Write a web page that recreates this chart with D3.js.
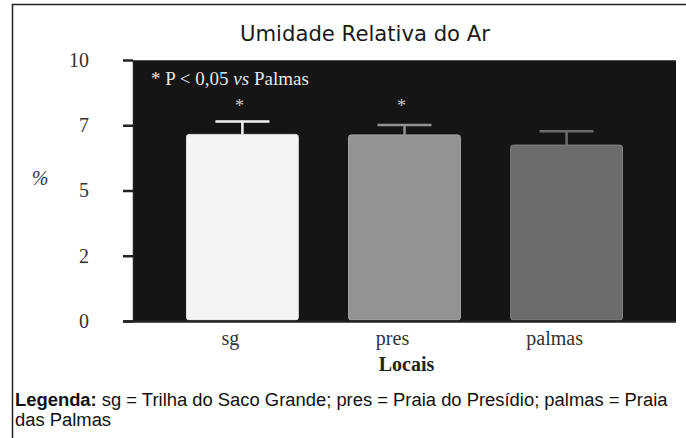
<!DOCTYPE html>
<html>
<head>
<meta charset="utf-8">
<script src="https://cdn.jsdelivr.net/npm/d3@7"></script>
<style>
  body { margin: 0; background: #fff; }
  svg { display: block; }
</style>
</head>
<body>
<div id="chart"></div>
<script>
const width = 686;
const height = 438;

// Data
const locais = ['sg', 'pres', 'palmas'];
const medias = [7.15, 7.13, 6.74];
const desvios = [0.49, 0.38, 0.53];
const signif = [true, true, false];
const yTicks = [0, 2.5, 5, 7.5, 10];
const yTickLabels = ['0', '2', '5', '7', '10'];
const barColors = ['#f4f4f4', '#939393', '#6c6c6c'];
const barEdges = ['#dcdcdc', '#a6a6a6', '#808080'];

const plot = { left: 133, right: 676, top: 60, bottom: 321 };

const svg = d3.select('#chart')
  .append('svg')
  .attr('width', width)
  .attr('height', height);

// outer frame
svg.append('rect')
  .attr('x', 12.5)
  .attr('y', 4.5)
  .attr('width', width)
  .attr('height', height + 10)
  .attr('fill', 'none')
  .attr('stroke', '#222')
  .attr('stroke-width', 1.5);

// title
svg.append('text')
  .attr('x', 240)
  .attr('y', 41)
  .attr('textLength', 250)
  .attr('lengthAdjust', 'spacingAndGlyphs')
  .attr('font-family', 'DejaVu Sans, sans-serif')
  .attr('font-size', 22)
  .attr('fill', '#1a1a1a')
  .text('Umidade Relativa do Ar');

const x = d3.scaleBand()
  .domain(locais)
  .range([plot.left, plot.right])
  .paddingInner(0.31)
  .paddingOuter(0.33);

const y = d3.scaleLinear()
  .domain([0, 10])
  .range([plot.bottom, plot.top]);

// black plot background
svg.append('rect')
  .attr('x', plot.left)
  .attr('y', plot.top)
  .attr('width', plot.right - plot.left)
  .attr('height', plot.bottom - plot.top)
  .attr('fill', '#151515');

svg.append('line')
  .attr('x1', plot.left).attr('x2', plot.right)
  .attr('y1', plot.top + 0.5).attr('y2', plot.top + 0.5)
  .attr('stroke', '#555');

// y axis
const yAxis = svg.append('g')
  .attr('transform', `translate(${plot.left},0)`)
  .call(d3.axisLeft(y)
    .tickValues(yTicks)
    .tickFormat((d, i) => yTickLabels[i])
    .tickSizeInner(10)
    .tickSizeOuter(0)
    .tickPadding(34));

yAxis.select('.domain').attr('stroke', '#222').attr('stroke-width', 1.5);
yAxis.selectAll('.tick line').attr('stroke', '#222').attr('stroke-width', 2.5);
yAxis.selectAll('.tick text')
  .attr('font-family', 'Liberation Serif, serif')
  .attr('font-size', 20)
  .attr('fill', '#333');

// bars
const bars = svg.append('g');
bars.selectAll('rect')
  .data(locais)
  .join('rect')
  .attr('x', d => x(d))
  .attr('y', (d, i) => y(medias[i]))
  .attr('width', x.bandwidth())
  .attr('height', (d, i) => y(0) - y(medias[i]) - 1)
  .attr('rx', 2.5)
  .attr('fill', (d, i) => barColors[i])
  .attr('stroke', (d, i) => barEdges[i])
  .attr('stroke-width', 1);

// error bars
const err = svg.append('g');
locais.forEach((d, i) => {
  const cx = x(d) + x.bandwidth() / 2;
  const top = y(medias[i] + desvios[i]);
  err.append('line')
    .attr('x1', cx).attr('x2', cx)
    .attr('y1', y(medias[i])).attr('y2', top)
    .attr('stroke', barColors[i])
    .attr('stroke-width', 2.5);
  err.append('line')
    .attr('x1', cx - 27).attr('x2', cx + 27)
    .attr('y1', top).attr('y2', top)
    .attr('stroke', barColors[i])
    .attr('stroke-width', 2.5);
});

// significance asterisks
svg.append('g')
  .selectAll('text')
  .data(locais.filter((d, i) => signif[i]))
  .join('text')
  .attr('x', d => x(d) + x.bandwidth() / 2 - 3)
  .attr('y', 112)
  .attr('text-anchor', 'middle')
  .attr('font-family', 'Liberation Serif, serif')
  .attr('font-size', 18)
  .attr('fill', '#c8c8c8')
  .text('*');

// note inside plot
const note = svg.append('text')
  .attr('x', 151)
  .attr('y', 85)
  .attr('font-family', 'Liberation Serif, serif')
  .attr('font-size', 19)
  .attr('fill', '#e6e6e6');
note.append('tspan').text('* P < 0,05 ');
note.append('tspan').attr('font-style', 'italic').text('vs');
note.append('tspan').text(' Palmas');

// x baseline
svg.append('line')
  .attr('x1', plot.left - 10).attr('x2', plot.right)
  .attr('y1', plot.bottom + 0.5).attr('y2', plot.bottom + 0.5)
  .attr('stroke', '#222')
  .attr('stroke-width', 2.5);

// x axis labels
const xAxis = svg.append('g')
  .attr('transform', `translate(0,${plot.bottom})`)
  .call(d3.axisBottom(x).tickSize(0).tickPadding(10));

xAxis.select('.domain').remove();
xAxis.selectAll('.tick text')
  .attr('dx', -12)
  .attr('font-family', 'Liberation Serif, serif')
  .attr('font-size', 20)
  .attr('fill', '#333');

// axis titles
svg.append('text')
  .attr('x', (plot.left + plot.right) / 2 + 2)
  .attr('y', 371)
  .attr('text-anchor', 'middle')
  .attr('font-family', 'Liberation Serif, serif')
  .attr('font-weight', 'bold')
  .attr('font-size', 20)
  .attr('fill', '#222')
  .text('Locais');

svg.append('text')
  .attr('x', 40)
  .attr('y', 185)
  .attr('text-anchor', 'middle')
  .attr('font-family', 'Liberation Serif, serif')
  .attr('font-style', 'italic')
  .attr('font-size', 20)
  .attr('fill', '#333')
  .text('%');

// legenda (condensed by horizontal scale)
const leg = svg.append('g');
const line1 = leg.append('text')
  .attr('x', 0)
  .attr('y', 406)
  .attr('font-family', 'Liberation Sans, Arial, sans-serif')
  .attr('font-size', 18)
  .attr('fill', '#111');
line1.append('tspan').attr('font-weight', 'bold').text('Legenda:');
line1.append('tspan').text(' sg = Trilha do Saco Grande; pres = Praia do Presídio; palmas = Praia');

leg.append('text')
  .attr('x', 0)
  .attr('y', 426)
  .attr('font-family', 'Liberation Sans, Arial, sans-serif')
  .attr('font-size', 18)
  .attr('fill', '#111')
  .text('das Palmas');

const natural = line1.node().getComputedTextLength();
const sx = 653 / natural;
leg.attr('transform', `translate(15,0) scale(${sx},1)`);
</script>
</body>
</html>
